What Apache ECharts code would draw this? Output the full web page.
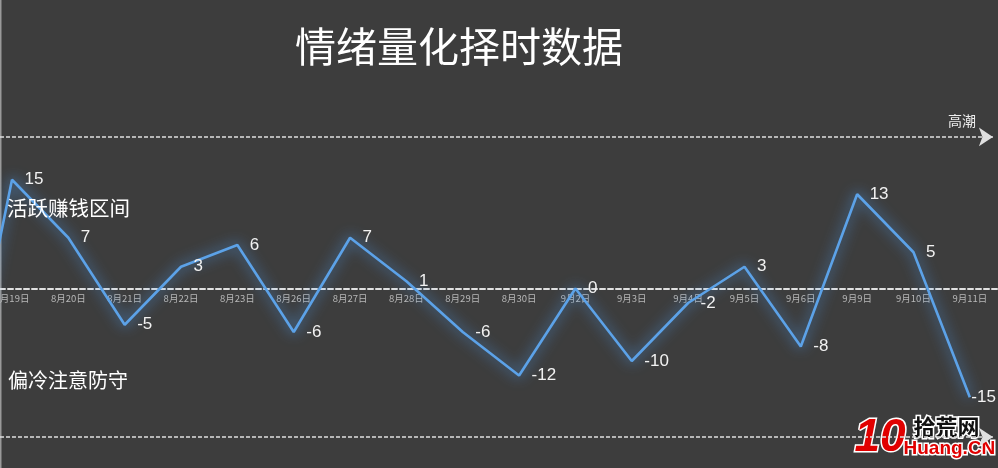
<!DOCTYPE html>
<html>
<head>
<meta charset="utf-8">
<style>
  html, body { margin: 0; padding: 0; background: #3d3d3d; }
  #chart { width: 998px; height: 468px; }
</style>
<script src="https://cdn.jsdelivr.net/npm/echarts@6/dist/echarts.min.js"></script>
</head>
<body>
<div id="chart"></div>
<script>
// ---- data ----
// first category lies left of the visible (cropped) area
const categories = ['8月16日', '8月19日', '8月20日', '8月21日', '8月22日', '8月23日', '8月26日', '8月27日', '8月28日', '8月29日', '8月30日', '9月2日', '9月3日', '9月4日', '9月5日', '9月6日', '9月9日', '9月10日', '9月11日'];
const sentiment = [-23, 15, 7, -5, 3, 6, -6, 7, 1, -6, -12, 0, -10, -2, 3, -8, 13, 5, -15];
const highLevel = 20.9;   // 高潮 line
const lowLevel = -20.5;   // bottom line
const titleText = '情绪量化择时数据';
const zoneHot = '活跃赚钱区间';
const zoneCold = '偏冷注意防守';
const highLabel = '高潮';

const chart = echarts.init(document.getElementById('chart'), null, { renderer: 'canvas' });
const font = '"Noto Sans CJK SC", "Microsoft YaHei", sans-serif';
const dashStyle = { color: '#e0e0e0', type: [4, 2], width: 1.5, shadowBlur: 0, opacity: 1 };

const lastIdx = sentiment.length - 1;
const seriesData = sentiment.map(function (v, i) {
  const item = { value: [i, v] };
  if (i === lastIdx) item.label = { distance: 1 };
  return item;
});

chart.setOption({
  backgroundColor: '#3d3d3d',
  animation: false,
  title: [
    { text: titleText, left: 290, top: 21, textStyle: { color: '#ffffff', fontSize: 41, fontWeight: 'normal', fontFamily: font } },
    { text: zoneHot, left: 2, top: 193, textStyle: { color: '#ffffff', fontSize: 20.5, fontWeight: 'normal', fontFamily: font } },
    { text: zoneCold, left: 3, top: 365, textStyle: { color: '#ffffff', fontSize: 20, fontWeight: 'normal', fontFamily: font } },
    { text: highLabel, left: 943, top: 109, textStyle: { color: '#eeeeee', fontSize: 14, fontWeight: 'normal', fontFamily: font } }
  ],
  grid: { left: 0, right: 0, top: 0, bottom: 0, containLabel: false, outerBoundsMode: 'none' },
  xAxis: {
    type: 'value',
    min: 0.787,
    max: 18.5,
    offset: -179.5,
    splitLine: { show: false },
    axisTick: { show: false },
    axisLine: { show: true, onZero: false, lineStyle: { color: '#e0e0e0', type: [5, 3], width: 2 } },
    axisLabel: {
      color: '#b8b8b8', fontSize: 9.5, fontFamily: font, margin: 5,
      customValues: categories.map(function (c, i) { return i; }),
      formatter: function (v) { return categories[Math.round(v)] || ''; }
    }
  },
  yAxis: { type: 'value', min: -24.76, max: 39.79, show: false, splitLine: { show: false } },
  series: [{
    type: 'line',
    data: seriesData,
    showSymbol: true,
    symbol: 'circle',
    symbolSize: 1,
    silent: true,
    itemStyle: { color: 'rgba(0,0,0,0)' },
    lineStyle: { color: '#5ca2e8', width: 2.6, shadowColor: 'rgba(80,165,255,0.95)', shadowBlur: 14 },
    label: {
      show: true, position: 'right', distance: 12,
      color: '#f2f2f2', fontSize: 17, fontFamily: 'Arial, "Liberation Sans", sans-serif',
      formatter: function (p) { return p.value[1]; }
    },
    markLine: {
      silent: true,
      symbol: ['none', 'arrow'],
      symbolSize: 14,
      label: { show: false },
      lineStyle: dashStyle,
      data: [
        [{ coord: [0.787, highLevel] }, { coord: [18.41, highLevel] }],
        [{ coord: [0.787, lowLevel] }, { coord: [18.41, lowLevel] }]
      ]
    }
  }],
  graphic: [
    { type: 'rect', left: 0, top: 0, shape: { width: 1.5, height: 468 }, style: { fill: '#9a9a9a' }, silent: true },
    { type: 'text', left: 853, top: 414, style: { text: '10', fill: '#e10000', stroke: '#ffffff', lineWidth: 3, font: 'italic bold 46px "Liberation Sans", Arial, sans-serif' } },
    { type: 'text', left: 912, top: 414, style: { text: '拾荒网', fill: '#111111', stroke: '#ffffff', lineWidth: 3, font: 'bold 22px "Noto Sans CJK SC", sans-serif' } },
    { type: 'text', left: 902, top: 438, style: { text: 'Huang.CN', fill: '#e10000', stroke: '#ffffff', lineWidth: 3, font: 'bold 19px "Liberation Sans", Arial, sans-serif' } }
  ]
});
</script>
</body>
</html>
